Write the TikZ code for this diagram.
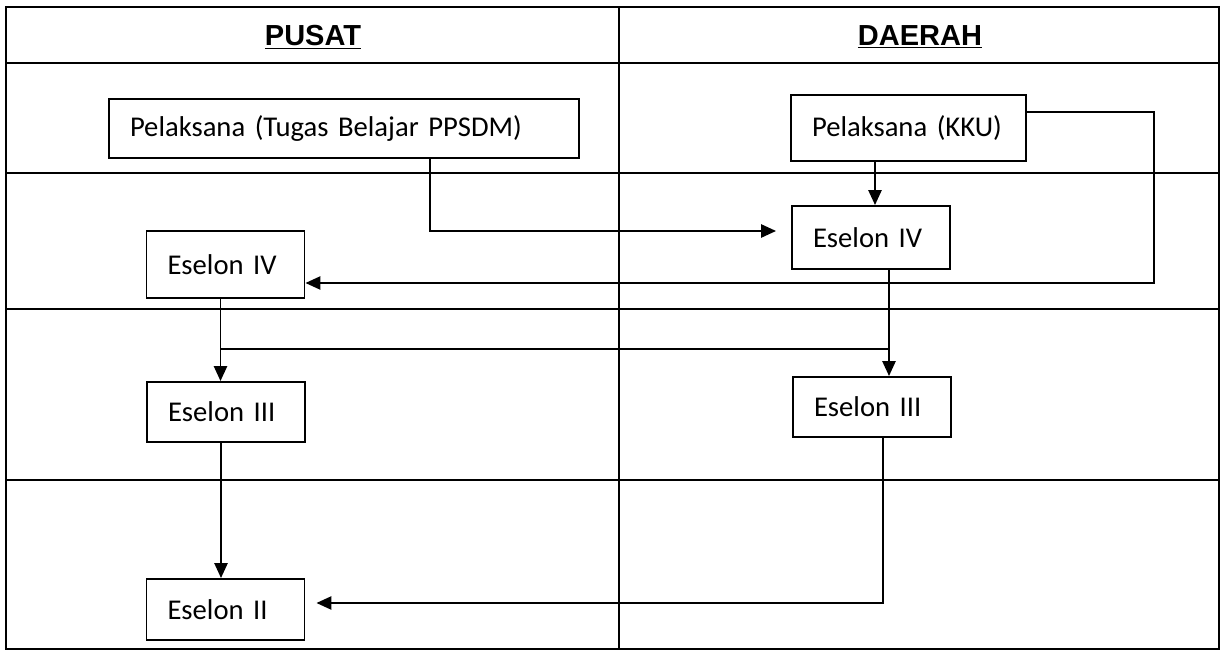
\documentclass[tikz,border=0pt]{standalone}
\usepackage{fontspec}
\setmainfont{Carlito}
\newfontfamily\headfont{Liberation Sans}
\usepackage{tikz}
\usetikzlibrary{arrows.meta,calc}

\begin{document}
\begin{tikzpicture}[->,>={Triangle[length=8.5pt,width=7.5pt]},line width=1.1pt,
        tbl/.style={-,line width=1.6pt},
        box/.style={-,draw,line width=1.1pt,fill=white,inner xsep=.42cm,inner ysep=0pt,
            text width=2.32cm,align=left,minimum height=1.22cm,
            font=\fontsize{16.3}{19}\selectfont},
        head/.style={font=\headfont\bfseries\fontsize{16.5}{19}\selectfont}]
    \useasboundingbox (0,0) rectangle (24.4,-13);

    % table
    \draw[tbl] (0.12,-0.14) rectangle (24.38,-12.98);
    \foreach \y in {-1.26,-3.46,-6.18,-9.6}
        \draw[tbl] (0.12,\y) -- (24.38,\y);
    \draw[tbl] (12.38,-0.14) -- (12.38,-12.98);

    \node[head] (pusat) at (6.26,-0.74) {\underline{PUSAT}};
    \node[head] (daerah) at (18.4,-0.74) {\underline{DAERAH}};

    % boxes
    \node[box,text width=8.56cm,minimum height=1.18cm] (tubel) at (6.88,-2.57) {Pelaksana (Tugas Belajar PPSDM)};
    \node[box,text width=3.86cm,minimum height=1.32cm] (kku) at (18.17,-2.56) {Pelaksana (KKU)};
    \node[box,minimum height=1.26cm] (e4d) at (17.42,-4.75) {Eselon IV};
    \node[box,minimum height=1.34cm] (e4p) at (4.51,-5.29) {Eselon IV};
    \node[box,minimum height=1.2cm] (e3p) at (4.52,-8.24) {Eselon III};
    \node[box,minimum height=1.2cm] (e3d) at (17.44,-8.14) {Eselon III};
    \node[box] (e2p) at (4.51,-12.19) {Eselon II};

    % connectors
    \draw[->,shorten >=.3cm] ([xshift=1.72cm]tubel.south) |- ([yshift=.13cm]e4d.west);
    \draw[->] ([xshift=.08cm]e4d.north |- kku.south) -- ([xshift=.08cm]e4d.north);
    \draw[->] ([yshift=.32cm]kku.east) -- ++(2.54cm,0) |- ([yshift=-.37cm]e4p.east);

    \coordinate (e4dout) at ([xshift=.36cm]e4d.south);
    \coordinate (e4pout) at ([xshift=-.1cm]e4p.south);
    \coordinate (split) at ([yshift=-1cm]e4pout);
    \draw[->] (e4dout) -- (e4dout |- e3d.north);
    \draw[->] (e4pout) -- (e4pout |- e3p.north);
    \draw[-] (split) -- (split -| e4dout);

    \draw[->] ([xshift=-.1cm]e3p.south) -- ([xshift=-.1cm]e3p.south |- e2p.north);
    \draw[->,shorten >=.22cm] ([xshift=.22cm]e3d.south) |- ([yshift=.13cm]e2p.east);
\end{tikzpicture}
\end{document}
